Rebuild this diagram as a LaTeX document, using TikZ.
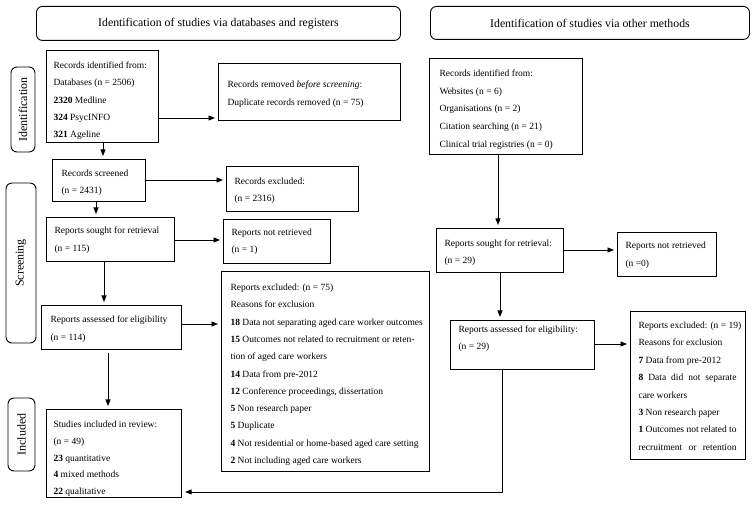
\documentclass[tikz,border=0pt]{standalone}
\usepackage{fontspec}
\setmainfont{Liberation Serif}
\usetikzlibrary{arrows.meta}
% #1 width, #2 height, #3 left pad, #4 top gap, #5 baselineskip, #6 lines
\newcommand\bxt[6]{\parbox[t][#2pt][t]{#1pt}{\raggedright\leftskip=#3pt\relax\baselineskip=#5pt\relax\vspace*{#4pt}\rule{0pt}{7pt}\ignorespaces#6}}
\tikzset{
  box/.style={draw, line width=1.1pt, inner sep=0pt, anchor=north west, font=\fontsize{9.5}{17.3}\selectfont},
  hdr/.style={draw, line width=0.9pt, rounded corners=6pt, anchor=north west, inner sep=0pt, font=\fontsize{11.8}{14}\selectfont},
  side/.style={draw, line width=0.9pt, rounded corners=6pt, rotate=90, inner sep=0pt, font=\fontsize{12}{14}\selectfont},
  arr/.style={line width=0.9pt, -{Triangle[length=6.5pt,width=5pt]}, shorten >=3pt},
  ln/.style={line width=0.9pt}
}
\begin{document}
\begin{tikzpicture}[x=1pt,y=-1pt]
\useasboundingbox[fill=white] (0,0) rectangle (755,510);
% headers
\node[hdr, minimum width=364pt, minimum height=34pt] (h1) at (36,6) {Identification of studies via databases and registers};
\node[hdr, minimum width=319pt, minimum height=33pt] (h2) at (430,6) {Identification of studies via other methods};
% side labels
\node[side, minimum width=85pt, minimum height=24pt] (sid) at (23,109.5) {Identification};
\node[side, minimum width=160pt, minimum height=30pt] (sscr) at (21,263) {Screening};
\node[side, minimum width=73pt, minimum height=27pt] (sinc) at (21.5,434.5) {Included};
% left column
\node[box] (recid) at (46,50) {\bxt{112}{92}{7}{11}{17.3}{Records identified from:\\
Databases (n = 2506)\\
\textbf{2320} Medline\\
\textbf{324} PsycINFO\\
\textbf{321} Ageline}};
\node[box] (removed) at (218,63) {\bxt{182}{57}{9}{17}{17.6}{Records removed \textit{before screening}:\\
Duplicate records removed (n = 75)}};
\node[box] (screened) at (52,159) {\bxt{93}{42}{9}{10}{17}{Records screened\\
(n = 2431)}};
\node[box] (excl1) at (226,166) {\bxt{132}{45}{8}{11}{17}{Records excluded:\\
(n = 2316)}};
\node[box] (sought) at (46,217) {\bxt{128}{44}{8}{9}{17.6}{Reports sought for retrieval\\
(n = 115)}};
\node[box] (notret) at (223,219) {\bxt{107}{44}{8}{9}{17.3}{Reports not retrieved\\
(n = 1)}};
\node[box] (assessed) at (41,305) {\bxt{140}{44}{9}{10}{17.6}{Reports assessed for eligibility\\
(n = 114)}};
\node[box] (excl2) at (221,271) {\bxt{208}{200}{9}{12}{17.3}{Reports excluded: (n = 75)\\
Reasons for exclusion\\
\textbf{18} Data not separating aged care worker outcomes\\
\textbf{15} Outcomes not related to recruitment or reten-\\
tion of aged care workers\\
\textbf{14} Data from pre-2012\\
\textbf{12} Conference proceedings, dissertation\\
\textbf{5} Non research paper\\
\textbf{5} Duplicate\\
\textbf{4} Not residential or home-based aged care setting\\
\textbf{2} Not including aged care workers}};
\node[box] (included) at (46,409) {\bxt{135}{88}{7}{11}{16.8}{Studies included in review:\\
(n = 49)\\
\textbf{23} quantitative\\
\textbf{4} mixed methods\\
\textbf{22} qualitative}};
% right column
\node[box] (rrec) at (429,58) {\bxt{153}{96}{10}{11}{17.7}{Records identified from:\\
Websites (n = 6)\\
Organisations (n = 2)\\
Citation searching (n = 21)\\
Clinical trial registries (n = 0)}};
\node[box] (rsought) at (436,228) {\bxt{127}{44}{8}{11}{17}{Reports sought for retrieval:\\
(n = 29)}};
\node[box] (rnotret) at (617,232) {\bxt{99}{44}{8}{9}{17.6}{Reports not retrieved\\
(n =0)}};
\node[box] (rassessed) at (450,320) {\bxt{144}{49}{8}{5}{16.5}{Reports assessed for eligibility:\\
(n = 29)}};
\node[box] (rexcl) at (630,311) {\bxt{115}{148}{8}{10}{17.4}{Reports excluded: (n = 19)\\
Reasons for exclusion\\
\textbf{7} Data from pre-2012\\
\makebox[98pt][s]{\textbf{8} Data did not separate}\\
care workers\\
\textbf{3} Non research paper\\
\makebox[98pt][s]{\textbf{1} Outcomes not related to}\\
\makebox[98pt][s]{recruitment or retention}}};
% connectors left
\draw[arr] (recid.east |- 0,118) -- (removed.west |- 0,118);
\draw[arr] (recid.south -| 103,0) -- (screened.north -| 103,0);
\draw[arr] (screened.east |- 0,180) -- (excl1.west |- 0,180);
\draw[arr] (screened.south -| 96,0) -- (sought.north -| 96,0);
\draw[arr] (sought.east |- 0,240) -- (notret.west |- 0,240);
\draw[arr] (sought.south -| 104,0) -- (assessed.north -| 104,0);
\draw[arr] (assessed.east |- 0,324) -- (excl2.west |- 0,324);
\draw[arr, shorten <=3pt] (assessed.south -| 108,0) -- (included.north -| 108,0);
% connectors right
\draw[arr] (rrec.south -| 498,0) -- (rsought.north -| 498,0);
\draw[arr] (rsought.east |- 0,250) -- (rnotret.west |- 0,250);
\draw[arr] (rsought.south -| 500,0) -- (rassessed.north -| 500,0);
\draw[arr] (rassessed.east |- 0,344) -- (rexcl.west |- 0,344);
\draw[arr] (rassessed.south -| 502,0) |- (included.east |- 0,492);
\end{tikzpicture}
\end{document}
